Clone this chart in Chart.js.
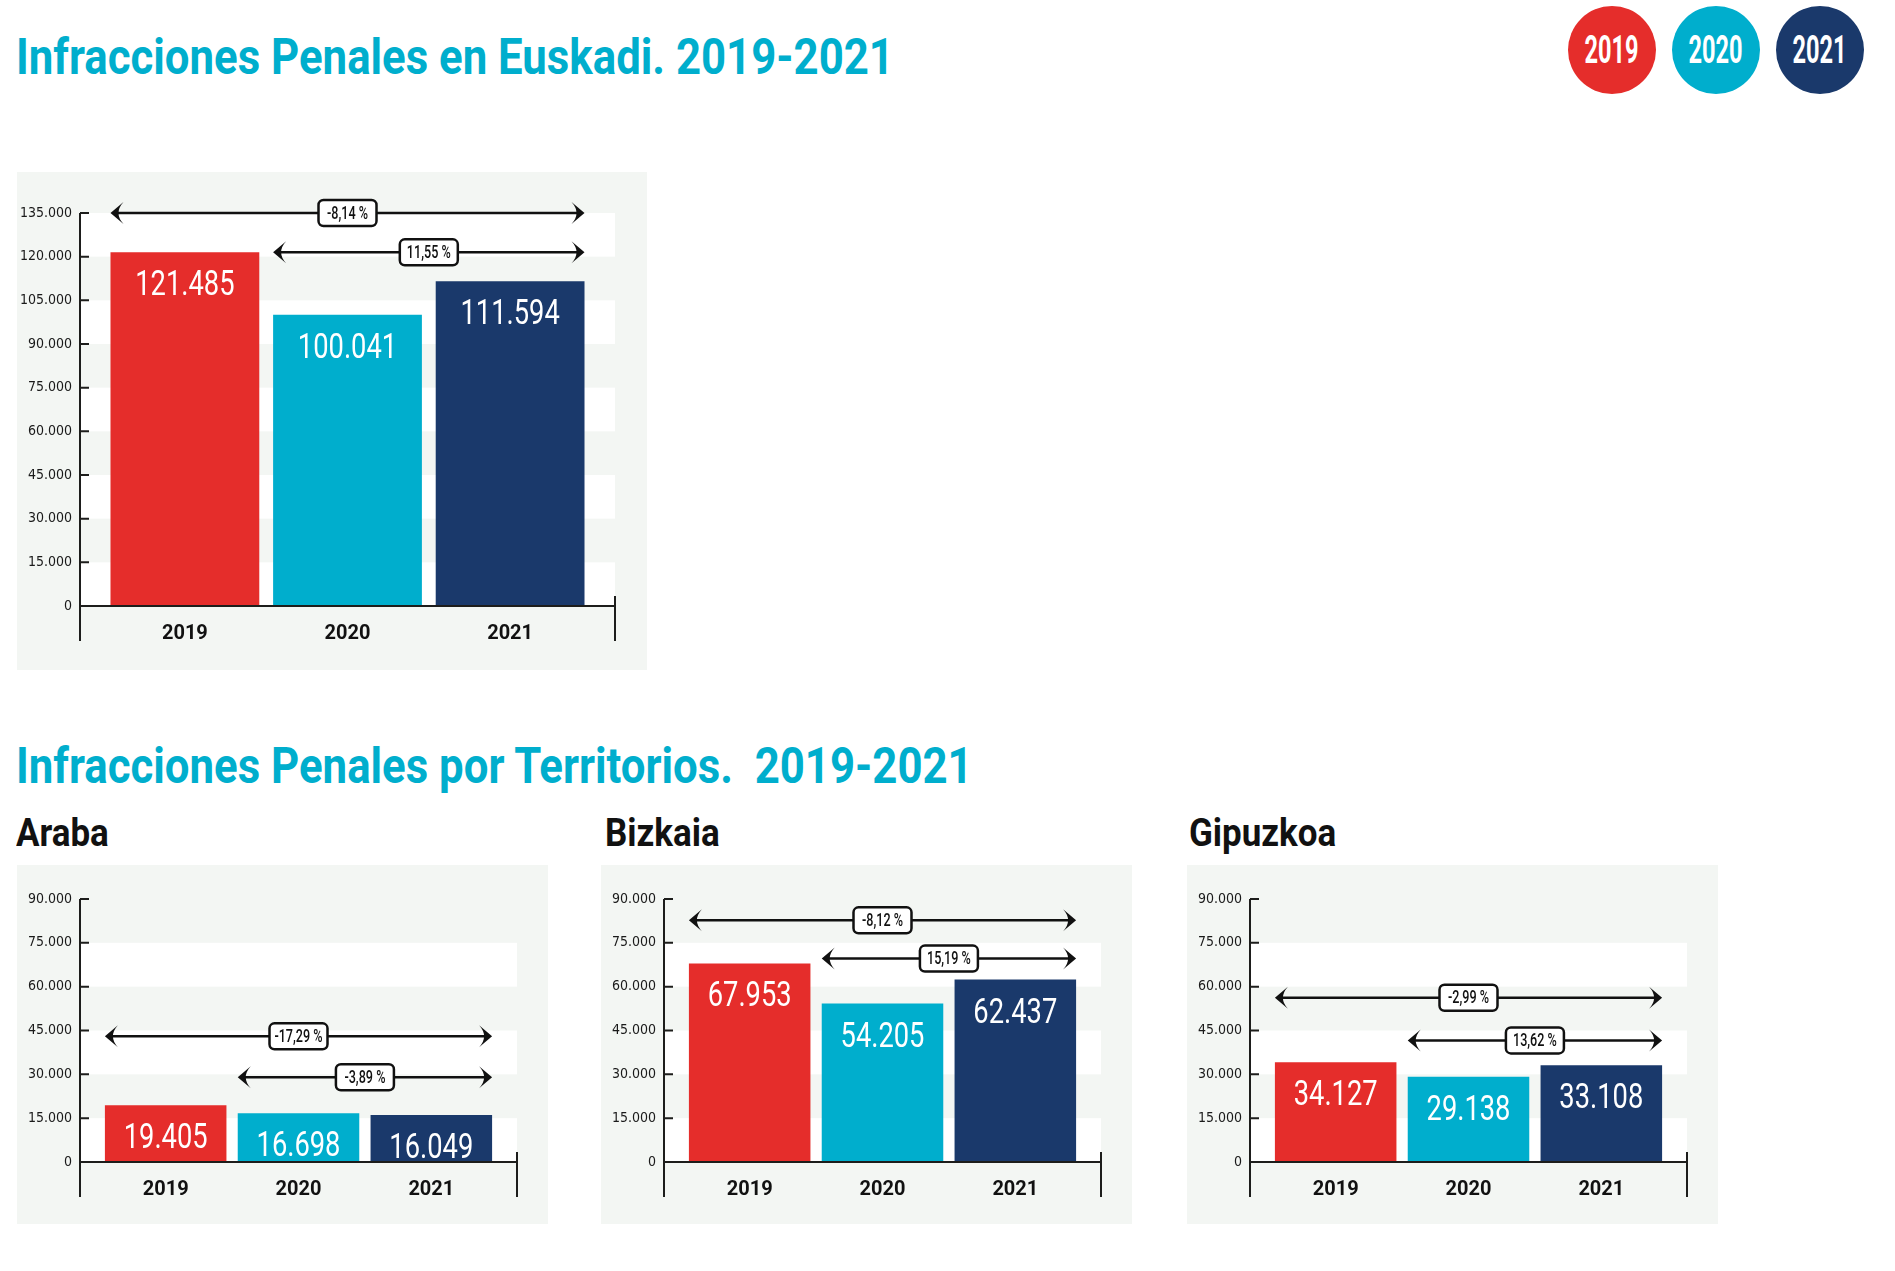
<!DOCTYPE html>
<html><head><meta charset="utf-8">
<script src="https://cdn.jsdelivr.net/npm/chart.js@4.4.1/dist/chart.umd.min.js"></script>
<style>
html,body{margin:0;padding:0;background:#fff;}
body{width:1895px;height:1271px;position:relative;overflow:hidden;font-family:Roboto,sans-serif;}
.title{position:absolute;left:16px;font:700 50px Roboto,sans-serif;color:#00AECD;line-height:50px;white-space:pre;transform-origin:0 0;transform:scaleX(0.875);}
.sub{position:absolute;top:814px;font:700 38px Roboto,sans-serif;color:#111;line-height:38px;white-space:pre;transform-origin:0 0;transform:scaleX(0.92);}
.panel{position:absolute;background:#F3F6F3;}
.panel canvas{display:block;}
.dot{position:absolute;top:6px;width:88px;height:88px;border-radius:50%;display:flex;align-items:center;justify-content:center;}
.dot span{font:700 38px Roboto,sans-serif;color:#fff;transform:scaleX(0.62);display:inline-block;line-height:38px;}
</style></head>
<body>
<div class="title" style="top:32px">Infracciones Penales en Euskadi. 2019-2021</div>
<div id="legend"></div>
<div class="panel" style="left:17px;top:172px;width:630px;height:498px"><canvas id="cEuskadi" width="630" height="498"></canvas></div>
<div class="title" style="top:741px">Infracciones Penales por Territorios.  2019-2021</div>
<div class="sub" style="left:16px">Araba</div>
<div class="sub" style="left:605px">Bizkaia</div>
<div class="sub" style="left:1189px">Gipuzkoa</div>
<div class="panel" style="left:17px;top:865px;width:531px;height:359px"><canvas id="cAraba" width="531" height="359"></canvas></div>
<div class="panel" style="left:601px;top:865px;width:531px;height:359px"><canvas id="cBizkaia" width="531" height="359"></canvas></div>
<div class="panel" style="left:1187px;top:865px;width:531px;height:359px"><canvas id="cGipuzkoa" width="531" height="359"></canvas></div>
<script>
// ---- data ----
const years = ['2019', '2020', '2021'];
const euskadiValues = [121485, 100041, 111594];
const arabaValues = [19405, 16698, 16049];
const bizkaiaValues = [67953, 54205, 62437];
const gipuzkoaValues = [34127, 29138, 33108];
const euskadiChanges = ['-8,14 %', '11,55 %'];
const arabaChanges = ['-17,29 %', '-3,89 %'];
const bizkaiaChanges = ['-8,12 %', '15,19 %'];
const gipuzkoaChanges = ['-2,99 %', '13,62 %'];
const changeFrom = [0, 1];   // each change arrow goes from this year index ...
const changeTo = 2;          // ... to the last year
const euskadiTicks = [0, 15000, 30000, 45000, 60000, 75000, 90000, 105000, 120000, 135000];
const territoryTicks = [0, 15000, 30000, 45000, 60000, 75000, 90000];

// ---- style / layout ----
const barColors = ['#E52D2B', '#00AECD', '#1A396B'];
const TICKFONT = "'DejaVu Sans Condensed','Liberation Sans Narrow',sans-serif";
const arrowLevels = {
  euskadi: [135000, 121500],
  araba: [43000, 29000],
  bizkaia: [82700, 69600],
  gipuzkoa: [56200, 41600]
};
const bigGeom = {top: 41, right: 32, bottom: 64, axis: 63};
const smallGeom = {top: 34, right: 31, bottom: 62, axis: 63};

const fmt = v => String(v).replace(/\B(?=(\d{3})+(?!\d))/g, '.');

// legend
const legend = document.getElementById('legend');
const legendCenters = [1612, 1716, 1820];
years.forEach((y, i) => {
  const d = document.createElement('div');
  d.className = 'dot';
  d.style.left = (legendCenters[i] - 44) + 'px';
  d.style.background = barColors[i];
  d.innerHTML = '<span>' + y + '</span>';
  legend.appendChild(d);
});

function narrowText(ctx, text, x, y, sx) {
  ctx.save(); ctx.translate(x, y); ctx.scale(sx, 1); ctx.fillText(text, 0, 0); ctx.restore();
}
function drawArrow(ctx, x1, x2, y) {
  ctx.lineWidth = 2.5; ctx.strokeStyle = '#111'; ctx.fillStyle = '#111';
  ctx.beginPath(); ctx.moveTo(x1 + 6, y); ctx.lineTo(x2 - 6, y); ctx.stroke();
  [[x1, 1], [x2, -1]].forEach(([tx, d]) => {
    ctx.beginPath();
    ctx.moveTo(tx, y);
    ctx.lineTo(tx + 13 * d, y - 11);
    ctx.quadraticCurveTo(tx + 3 * d, y, tx + 13 * d, y + 11);
    ctx.closePath(); ctx.fill();
  });
}
function drawBox(ctx, cx, cy, label) {
  const w = 58, h = 26;
  ctx.beginPath(); ctx.roundRect(cx - w / 2, cy - h / 2, w, h, 5);
  ctx.fillStyle = '#fff'; ctx.fill();
  ctx.lineWidth = 2.5; ctx.strokeStyle = '#111'; ctx.stroke();
  ctx.fillStyle = '#111'; ctx.font = '500 18px Roboto';
  ctx.textAlign = 'center'; ctx.textBaseline = 'middle';
  narrowText(ctx, label, cx, cy + 1, 0.7);
}

const decor = {
  id: 'decor',
  beforeDatasetsDraw(chart) {
    const {ctx, chartArea: {left, right}, scales: {y}} = chart;
    const t = y.ticks.map(k => k.value);
    ctx.save(); ctx.fillStyle = '#fff';
    for (let i = 0; i + 1 < t.length; i += 2) {
      const y0 = y.getPixelForValue(t[i]), y1 = y.getPixelForValue(t[i + 1]);
      ctx.fillRect(left, y1, right - left, y0 - y1);
    }
    ctx.restore();
  },
  afterDatasetsDraw(chart, args, opts) {
    const {ctx, chartArea: {left, right}, scales: {y}} = chart;
    const meta = chart.getDatasetMeta(0);
    const data = chart.data.datasets[0].data;
    ctx.save();
    ctx.fillStyle = '#fff'; ctx.font = '35px Roboto';
    ctx.textAlign = 'center'; ctx.textBaseline = 'alphabetic';
    meta.data.forEach((bar, i) => narrowText(ctx, fmt(data[i].y), bar.x, bar.y + 43, 0.78));
    const yTop = y.getPixelForValue(y.max), y0 = y.getPixelForValue(0);
    ctx.strokeStyle = '#1d1d1b'; ctx.lineWidth = 2;
    ctx.beginPath();
    ctx.moveTo(left, yTop); ctx.lineTo(left, y0 + 35);
    ctx.moveTo(left, y0); ctx.lineTo(right, y0);
    ctx.moveTo(right, y0 - 10); ctx.lineTo(right, y0 + 35);
    y.ticks.forEach(k => { const py = y.getPixelForValue(k.value); ctx.moveTo(left, py); ctx.lineTo(left + 9, py); });
    ctx.stroke();
    opts.changes.forEach((label, k) => {
      const a = meta.data[opts.from[k]], b = meta.data[opts.to];
      const x1 = a.x - a.width / 2, x2 = b.x + b.width / 2;
      const py = y.getPixelForValue(opts.levels[k]);
      drawArrow(ctx, x1, x2, py);
      drawBox(ctx, (x1 + x2) / 2, py, label);
    });
    ctx.restore();
  }
};

function makeChart(id, values, yTicks, changes, levels, geom) {
  return new Chart(document.getElementById(id), {
    type: 'bar',
    data: {datasets: [{
      data: values.map((v, i) => ({x: i, y: v})),
      backgroundColor: barColors, borderWidth: 0,
      categoryPercentage: 0.915, barPercentage: 1
    }]},
    options: {
      responsive: false, animation: false, events: [],
      layout: {padding: {top: geom.top, right: geom.right, bottom: 0, left: 0}},
      plugins: {legend: {display: false}, tooltip: {enabled: false},
        decor: {changes, from: changeFrom, to: changeTo, levels}},
      scales: {
        x: {type: 'linear', min: -0.645, max: 2.645, offset: false,
          grid: {display: false, drawTicks: false, offset: false}, border: {display: false},
          ticks: {stepSize: 1, includeBounds: false, autoSkip: false, maxRotation: 0, padding: 16,
            color: '#111', font: {family: 'Roboto', size: 20, weight: 'bold'},
            callback: v => years[v] ?? ''},
          afterFit: s => { s.height = geom.bottom; }},
        y: {min: 0, max: yTicks[yTicks.length - 1],
          grid: {display: false, drawTicks: false}, border: {display: false},
          afterBuildTicks: s => { s.ticks = yTicks.map(v => ({value: v})); },
          ticks: {padding: 8, color: '#1a1a1a', font: {family: TICKFONT, size: 14}, callback: v => fmt(v)},
          afterFit: s => { s.width = geom.axis; }}
      }
    },
    plugins: [decor]
  });
}

makeChart('cEuskadi', euskadiValues, euskadiTicks, euskadiChanges, arrowLevels.euskadi, bigGeom);
makeChart('cAraba', arabaValues, territoryTicks, arabaChanges, arrowLevels.araba, smallGeom);
makeChart('cBizkaia', bizkaiaValues, territoryTicks, bizkaiaChanges, arrowLevels.bizkaia, smallGeom);
makeChart('cGipuzkoa', gipuzkoaValues, territoryTicks, gipuzkoaChanges, arrowLevels.gipuzkoa, smallGeom);
</script>
</body></html>
